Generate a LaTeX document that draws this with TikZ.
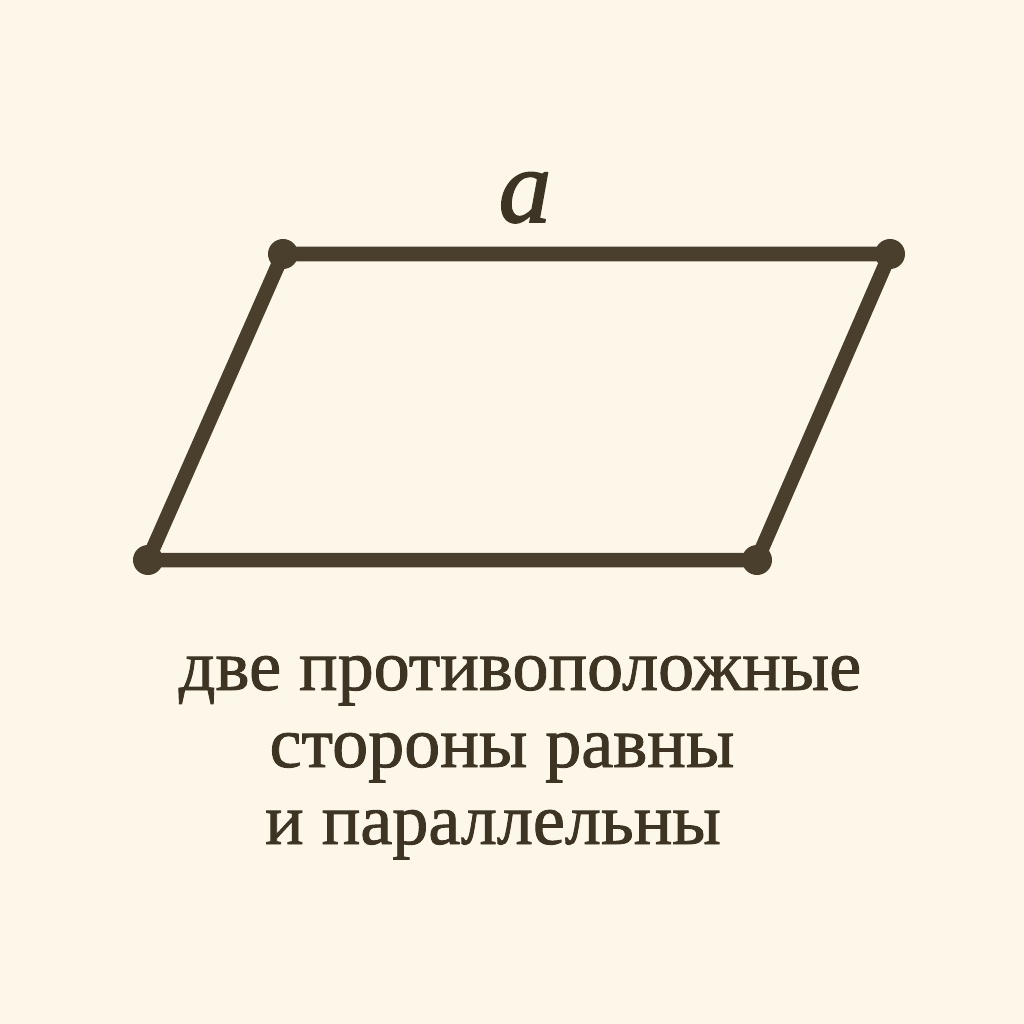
\documentclass[tikz,border=0pt]{standalone}
\usepackage{fontspec}
\setmainfont{Liberation Serif}
\newfontfamily\capfont[FakeBold=1.2]{Liberation Serif}
\newfontfamily\letterfont[FakeBold=1.5]{Liberation Serif}
\definecolor{bg}{HTML}{FDF7EA}
\definecolor{ink}{HTML}{4A3F2D}
\definecolor{txt}{HTML}{3D3424}
\begin{document}
\begin{tikzpicture}[x=0.01cm,y=-0.01cm,
  side/.style={draw=ink,line width=14.5*0.2845pt,line join=round},
  vdot/.style={circle,fill=ink,inner sep=0pt,minimum size=30*0.2845pt},
  lab/.style={text=txt,inner sep=0pt,anchor=base},
  captext/.style={lab,font=\capfont\fontsize{20.5}{20.5}\selectfont}]
\fill[bg] (0,0) rectangle (1024,1024);
\useasboundingbox (0,0) rectangle (1024,1024);
\coordinate (A) at (148,560);
\coordinate (B) at (757,560);
\coordinate (C) at (890,254);
\coordinate (D) at (283,254);
\draw[side] (A) -- (B) -- (C) -- (D) -- cycle;
\foreach \p in {A,B,C,D} \node[vdot] (dot\p) at (\p) {};
\node[lab,font=\letterfont\fontsize{30}{30}\selectfont\itshape] (la) at (525,222) {a};
\node[captext] (l1) at (520,690) {две противоположные};
\node[captext] (l2) at (502,767) {стороны равны};
\node[captext] (l3) at (493,844) {и параллельны};
\end{tikzpicture}
\end{document}
